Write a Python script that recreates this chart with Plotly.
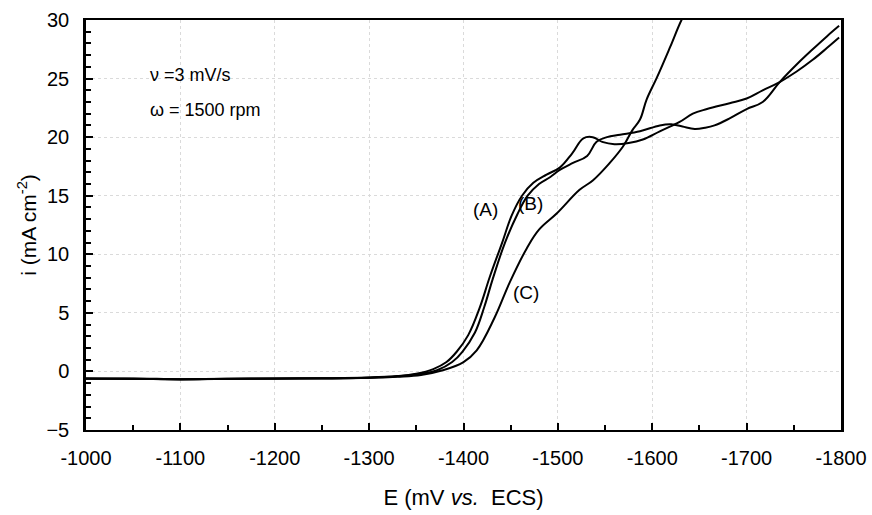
import plotly.graph_objects as go

# Curve A
a_E = [-1000, -1050, -1100, -1150, -1200, -1250, -1300, -1330, -1350, -1368, -1382, -1393, -1405,
       -1417, -1428, -1441, -1451, -1462, -1474, -1488, -1502, -1515, -1527, -1537, -1547, -1560,
       -1575, -1590, -1608, -1629, -1643, -1658, -1682, -1700, -1717, -1735, -1753, -1770, -1785, -1798]
a_i = [-0.6, -0.62, -0.68, -0.62, -0.6, -0.58, -0.52, -0.4, -0.2, 0.2, 0.8, 1.7, 3.1,
       5.4, 8.1, 11.0, 13.3, 15.0, 16.1, 16.8, 17.4, 18.6, 19.9, 20.0, 19.6, 19.4,
       19.5, 19.8, 20.5, 21.3, 22.0, 22.4, 22.9, 23.3, 24.0, 24.7, 25.6, 26.6, 27.6, 28.5]

# Curve B
b_E = [-1000, -1050, -1100, -1150, -1200, -1250, -1300, -1330, -1352, -1372, -1388, -1399, -1412,
       -1422, -1431, -1444, -1457, -1468, -1480, -1492, -1502, -1516, -1531, -1541, -1552, -1566,
       -1587, -1608, -1620, -1632, -1645, -1656, -1666, -1682, -1700, -1717, -1735, -1753, -1770, -1785, -1798]
b_i = [-0.62, -0.6, -0.66, -0.64, -0.6, -0.6, -0.54, -0.42, -0.25, 0.1, 0.8, 1.7, 3.3,
       5.5, 7.9, 11.0, 13.4, 15.0, 16.0, 16.6, 17.2, 17.8, 18.4, 19.6, 20.0, 20.2,
       20.5, 21.0, 21.1, 20.9, 20.7, 20.8, 21.0, 21.6, 22.4, 23.0, 24.7, 26.2, 27.5, 28.6, 29.5]

# Curve C
c_E = [-1000, -1050, -1100, -1150, -1200, -1250, -1300, -1330, -1355, -1378, -1400, -1414, -1433,
       -1449, -1467, -1480, -1499, -1523, -1537, -1555, -1569, -1579, -1587, -1594, -1605, -1619, -1631, -1640]
c_i = [-0.6, -0.64, -0.66, -0.62, -0.62, -0.58, -0.55, -0.45, -0.3, 0.1, 0.8, 1.8, 4.6,
       7.6, 10.5, 12.1, 13.5, 15.5, 16.3, 17.8, 19.2, 20.6, 21.5, 23.2, 25.1, 27.7, 30.0, 31.3]

x_ticks = [-1000, -1100, -1200, -1300, -1400, -1500, -1600, -1700, -1800]
y_ticks = [-5, 0, 5, 10, 15, 20, 25, 30]

fig = go.Figure()
for E, I in [(a_E, a_i), (b_E, b_i), (c_E, c_i)]:
    fig.add_trace(go.Scatter(x=E, y=I, mode="lines",
                             line=dict(color="black", width=2, shape="spline", smoothing=1.1),
                             showlegend=False, hoverinfo="skip"))

font_family = "Liberation Sans, Arial, sans-serif"

fig.update_layout(
    width=872, height=515,
    margin=dict(l=86, r=31, t=20, b=85, autoexpand=False),
    paper_bgcolor="white", plot_bgcolor="white",
    font=dict(family=font_family, size=20, color="black"),
    xaxis=dict(
        range=[-1000, -1800], tickvals=x_ticks, ticktext=[str(v) for v in x_ticks],
        showline=True, linecolor="black", linewidth=2, mirror=True,
        ticks="inside", ticklen=7, tickwidth=2, tickcolor="black",
        minor=dict(dtick=50, ticks="inside", ticklen=5, tickwidth=1.5, tickcolor="black", showgrid=False),
        showgrid=True, gridcolor="#dadada", gridwidth=1, griddash="dot",
        zeroline=False, ticklabelstandoff=9, automargin=False, ticklabeloverflow="allow",
        title=dict(text="E (mV <i>vs.</i>  ECS)", font=dict(size=22), standoff=22),
        tickfont=dict(size=20),
    ),
    yaxis=dict(
        range=[-5, 30], tickvals=y_ticks,
        showline=True, linecolor="black", linewidth=2.5, mirror=True,
        ticks="inside", ticklen=7, tickwidth=2, tickcolor="black",
        minor=dict(dtick=1, ticks="inside", ticklen=5, tickwidth=1.5, tickcolor="black", showgrid=False),
        showgrid=True, gridcolor="#dadada", gridwidth=1, griddash="dot",
        zeroline=False, ticklabelstandoff=10, automargin=False,
        title=dict(text="i (mA cm<sup>-2</sup>)", font=dict(size=21), standoff=5),
        tickfont=dict(size=20),
    ),
    annotations=[
        dict(x=-1066, y=25.3, text="ν =3 mV/s", showarrow=False, xanchor="left", yanchor="middle",
             font=dict(size=18)),
        dict(x=-1066, y=22.3, text="ω = 1500 rpm", showarrow=False, xanchor="left", yanchor="middle",
             font=dict(size=18)),
        dict(x=-1423, y=13.8, text="(A)", showarrow=False, font=dict(size=19)),
        dict(x=-1471, y=14.3, text="(B)", showarrow=False, font=dict(size=19)),
        dict(x=-1466, y=6.7, text="(C)", showarrow=False, font=dict(size=19)),
    ],
)

fig.write_html(
    "out.html",
    config={"displayModeBar": False},
    post_script="document.body.style.margin='0';document.body.style.overflow='hidden';"
                "document.documentElement.style.overflow='hidden';",
)
